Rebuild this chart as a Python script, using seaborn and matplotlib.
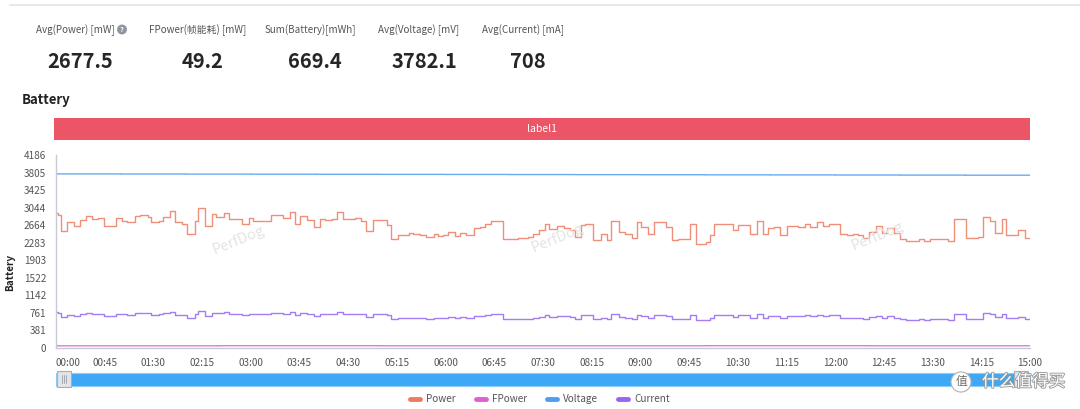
import matplotlib
matplotlib.use("Agg")
import numpy as np
import pandas as pd
import matplotlib.pyplot as plt
import seaborn as sns
from matplotlib.patches import Rectangle
from matplotlib.lines import Line2D
import matplotlib.patheffects as pe

# ---------------- data ----------------
series_names = ["Power", "FPower", "Voltage", "Current"]
series_colors = ["#EE7B5F", "#E060D0", "#4D9DF2", "#9466F2"]

end_time = 900  # seconds (15:00)

step_times = [0, 2, 5, 10, 17, 22, 28, 33, 39, 44, 55, 61, 66, 73, 78, 85, 88, 95, 99, 105,
              110, 116, 121, 128, 131, 138, 144, 148, 155, 160, 172, 178, 182, 199, 210, 216,
              221, 225, 232, 238, 244, 249, 255, 260, 265, 276, 282, 286, 293, 306, 310, 316,
              319, 326, 330, 336, 342, 349, 353, 358, 362, 369, 373, 379, 386, 392, 396, 402,
              413, 427, 436, 441, 446, 452, 456, 463, 469, 475, 480, 485, 489, 496, 504, 509,
              513, 520, 526, 532, 537, 541, 547, 553, 564, 569, 575, 586, 591, 601, 604, 608,
              614, 620, 626, 630, 641, 648, 653, 658, 663, 669, 675, 686, 692, 697, 703, 709,
              714, 724, 731, 736, 741, 746, 751, 758, 763, 768, 774, 780, 785, 797, 802, 808,
              820, 824, 830, 841, 852, 857, 863, 868, 874, 878, 889, 895]

power_mw = [2920, 2880, 2540, 2737, 2650, 2773, 2867, 2795, 2810, 2643, 2824, 2759, 2737, 2860,
            2882, 2846, 2737, 2759, 2846, 2976, 2737, 2679, 2469, 2751, 3041, 2643, 2904, 2846,
            2918, 2795, 2686, 2824, 2751, 2882, 2824, 2954, 2679, 2867, 2773, 2614, 2795, 2773,
            2795, 2954, 2788, 2810, 2751, 2534, 2773, 2664, 2374, 2461, 2447, 2497, 2469, 2447,
            2410, 2483, 2425, 2461, 2519, 2432, 2505, 2447, 2592, 2614, 2679, 2751, 2374, 2396,
            2410, 2469, 2555, 2686, 2577, 2650, 2592, 2555, 2410, 2664, 2686, 2338, 2483, 2338,
            2751, 2519, 2483, 2389, 2737, 2628, 2483, 2737, 2628, 2338, 2360, 2700, 2265, 2302,
            2461, 2700, 2679, 2686, 2555, 2664, 2483, 2751, 2483, 2592, 2628, 2447, 2643, 2614,
            2679, 2628, 2737, 2643, 2700, 2483, 2447, 2483, 2447, 2389, 2519, 2650, 2497, 2592,
            2497, 2374, 2324, 2374, 2324, 2360, 2374, 2324, 2788, 2389, 2403, 2831, 2759, 2505,
            2788, 2461, 2555, 2389]

current_ma = [772, 762, 672, 724, 701, 734, 758, 739, 743, 699, 747, 730, 724, 757,
              762, 753, 724, 730, 753, 787, 724, 709, 653, 728, 804, 699, 768, 753,
              772, 739, 711, 747, 728, 762, 747, 781, 709, 758, 734, 692, 739, 734,
              739, 781, 738, 743, 728, 670, 734, 705, 628, 651, 647, 661, 653, 647,
              638, 657, 642, 651, 666, 643, 663, 647, 686, 692, 709, 728, 628, 634,
              638, 653, 676, 711, 682, 701, 686, 676, 638, 705, 711, 619, 657, 619,
              728, 666, 657, 632, 724, 695, 657, 724, 695, 619, 624, 714, 599, 609,
              651, 714, 709, 711, 676, 705, 657, 728, 657, 686, 695, 647, 699, 692,
              709, 695, 724, 699, 714, 657, 647, 657, 647, 632, 666, 701, 661, 686,
              661, 628, 615, 628, 615, 624, 628, 615, 738, 632, 636, 749, 730, 663,
              738, 651, 676, 632]

voltage_times = [0, 60, 120, 180, 240, 300, 360, 420, 480, 540, 600, 660, 720, 780, 840]
voltage_mv = [3776, 3774, 3772, 3770, 3768, 3766, 3764, 3762, 3760, 3758, 3756, 3754, 3752,
              3750, 3748]

fpower_times = [0, 150, 300, 450, 600, 750]
fpower_mw = [48, 50, 49, 49, 50, 49]

ytick_values = [0, 381, 761, 1142, 1522, 1903, 2283, 2664, 3044, 3425, 3805, 4186]
xtick_labels = ["00:00", "00:45", "01:30", "02:15", "03:00", "03:45", "04:30", "05:15",
                "06:00", "06:45", "07:30", "08:15", "09:00", "09:45", "10:30", "11:15",
                "12:00", "12:45", "13:30", "14:15", "15:00"]
xtick_step = 45

stat_labels = ["Avg(Power) [mW]", "FPower(帧能耗) [mW]", "Sum(Battery)[mWh]",
               "Avg(Voltage) [mV]", "Avg(Current) [mA]"]
stat_values = ["2677.5", "49.2", "669.4", "3782.1", "708"]

# ---------------- style ----------------
sns.set_theme(style="white")
plt.rcParams["font.family"] = ["Noto Sans CJK SC", "DejaVu Sans"]

W, H = 1080, 409
fig = plt.figure(figsize=(W / 100, H / 100), dpi=100)
fig.patch.set_facecolor("white")


def fx(px):
    return px / W


def fy(py):
    return 1 - py / H


# long-form frame
rows = []
def add_series(name, times, vals):
    t = list(times) + [end_time]
    v = list(vals) + [vals[-1]]
    for a, b in zip(t, v):
        rows.append((name, a, b))

add_series("Power", step_times, power_mw)
add_series("FPower", fpower_times, fpower_mw)
add_series("Voltage", voltage_times, voltage_mv)
add_series("Current", step_times, current_ma)
df = pd.DataFrame(rows, columns=["series", "t", "value"])

ax = fig.add_axes([fx(56), fy(348), fx(1030) - fx(56), fy(155) - fy(348)])
sns.lineplot(data=df, x="t", y="value", hue="series", hue_order=series_names,
             palette=dict(zip(series_names, series_colors)), estimator=None,
             drawstyle="steps-post", linewidth=1.0, alpha=0.85, legend=False, ax=ax)
for ln in ax.lines:
    if matplotlib.colors.to_hex(ln.get_color()).lower() in ("#4d9df2", "#e060d0"):
        ln.set_snap(False)

ax.set_xlim(0, end_time)
ax.set_ylim(0, ytick_values[-1])
ax.set_yticks(ytick_values)
ax.set_yticklabels([str(v) for v in ytick_values])
ax.set_xticks([i * xtick_step for i in range(len(xtick_labels))])
ax.set_xticklabels(xtick_labels)
ax.tick_params(axis="both", labelsize=7.2, length=4, width=0.8, direction="out", pad=3)
ax.tick_params(axis="x", colors="#AEB4C2", labelcolor="#555555")
ax.tick_params(axis="y", colors="#AEB4C2", labelcolor="#555555")
xl = ax.get_xticklabels()
xl[0].set_horizontalalignment("left")
ax.set_xlabel("")
ax.set_ylabel("")
for s in ["top", "right"]:
    ax.spines[s].set_visible(False)
for s in ["left", "bottom"]:
    ax.spines[s].set_color("#C5CAD6")
    ax.spines[s].set_linewidth(1)
ax.grid(False)

# watermarks
for (wx, wy) in [(238, 240), (557, 238), (877, 236)]:
    fig.text(fx(wx), fy(wy), "PerfDog", color="#E4E4E4", fontsize=10.5, rotation=22,
             ha="center", va="center", zorder=0)

# y label
fig.text(fx(10), fy(272), "Battery", rotation=90, fontsize=7.2, fontweight="bold",
         color="#222222", ha="center", va="center")

# header line
fig.add_artist(Line2D([fx(10), 1.0], [fy(5), fy(5)], color="#E6E8EE", lw=1.5))

# stats
stat_centers = [75, 198, 310, 419, 523]
for cx, lab, val in zip(stat_centers, stat_labels, stat_values):
    fig.text(fx(cx), fy(30), lab, fontsize=7.1, color="#555555", ha="center", va="center")
    fig.text(fx(cx + 5), fy(62), val, fontsize=14.5, fontweight="bold", color="#262626",
             ha="center", va="center")
fig.text(fx(122), fy(29.5), "?", fontsize=5.2, color="white", fontweight="bold",
         ha="center", va="center",
         bbox=dict(boxstyle="circle,pad=0.2", fc="#8F96A0", ec="none"))

# section title
fig.text(fx(22), fy(100), "Battery", fontsize=9.5, fontweight="bold", color="#222222",
         ha="left", va="center")

# label bar
fig.add_artist(Rectangle((fx(54), fy(140)), fx(1030) - fx(54), fy(118) - fy(140),
                         transform=fig.transFigure, facecolor="#EB5566", edgecolor="none"))
fig.text(fx(542), fy(129), "label1", fontsize=7.5, color="white", ha="center", va="center")

# slider
fig.add_artist(Rectangle((fx(56), fy(386)), fx(1030) - fx(56), fy(373) - fy(386),
                         transform=fig.transFigure, facecolor="#3DA8F5", edgecolor="#8FCBF7",
                         lw=0.8))
for hx in [57, 1014]:
    fig.add_artist(Rectangle((fx(hx), fy(387)), fx(14) - fx(0), fy(371) - fy(387),
                             transform=fig.transFigure, facecolor="#E2E4E8",
                             edgecolor="#A9ADB5", lw=0.8))
    for gx in [hx + 5, hx + 7, hx + 9]:
        fig.add_artist(Line2D([fx(gx), fx(gx)], [fy(383), fy(375)], color="#9A9FA8", lw=0.6))

# site watermark
fig.text(fx(961), fy(382), "值", fontsize=8.5, color="#6E6E6E", ha="center", va="center",
         bbox=dict(boxstyle="circle,pad=0.3", fc="white", ec="#B0B0B0", lw=0.8))
fig.text(fx(982), fy(382), "什么值得买", fontsize=12, color="white", ha="left", va="center",
         path_effects=[pe.withStroke(linewidth=1.3, foreground="#9A9A9A")])

# legend
handles = [Line2D([0], [0], color=c, lw=3.5) for c in series_colors]
fig.legend(handles, series_names, loc="center", bbox_to_anchor=(fx(540), fy(399)), ncol=4,
           frameon=False, fontsize=7.2, handlelength=1.0, handletextpad=0.6,
           columnspacing=2.0, labelcolor="#555555")

fig.savefig("out.png", dpi=100, facecolor="white")
